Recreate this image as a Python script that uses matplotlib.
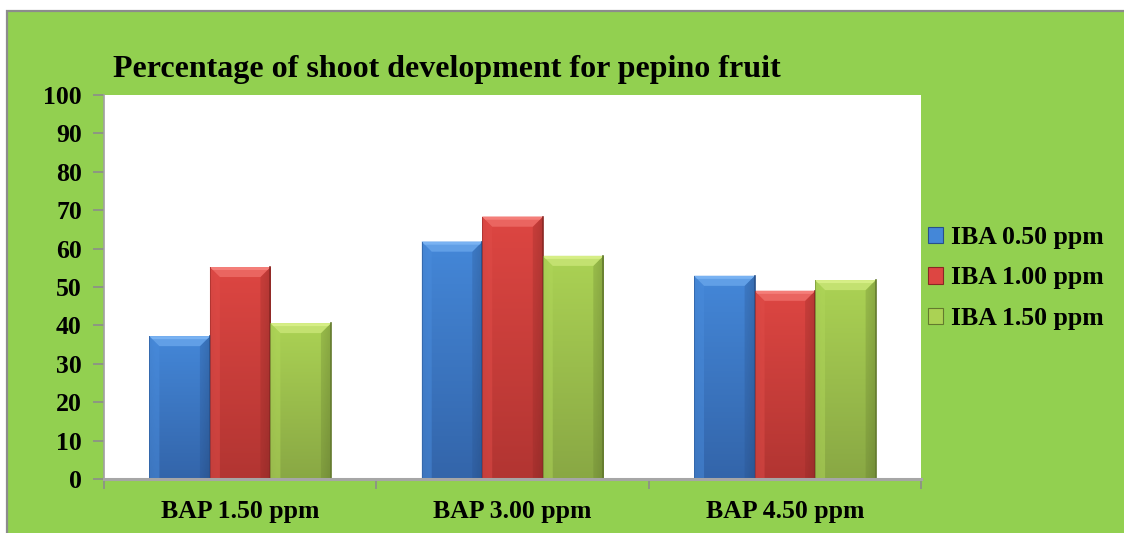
import matplotlib
matplotlib.use("Agg")
import matplotlib.pyplot as plt
import numpy as np
from matplotlib.patches import Rectangle, Polygon, Patch
from matplotlib.colors import to_rgb

categories = ["BAP 1.50 ppm", "BAP 3.00 ppm", "BAP 4.50 ppm"]
series_labels = ["IBA 0.50 ppm", "IBA 1.00 ppm", "IBA 1.50 ppm"]
iba_050 = [37.2, 61.8, 52.9]
iba_100 = [55.2, 68.3, 49.0]
iba_150 = [40.6, 58.1, 51.8]
y_ticks = [0, 10, 20, 30, 40, 50, 60, 70, 80, 90, 100]
title_text = "Percentage of shoot development for pepino fruit"

series = [iba_050, iba_100, iba_150]
# (top body, bottom body, bevel highlight, dark edge)
palettes = [
    ("#4487D8", "#3365AA", "#79B2F2", "#28508A"),
    ("#DD4642", "#B23532", "#F47E79", "#8A2724"),
    ("#ABD254", "#89A844", "#D6EE86", "#637A2E"),
]

W, H = 1124, 533
fig = plt.figure(figsize=(W / 100, H / 100), dpi=100)
fig.patch.set_facecolor("white")
bg = Rectangle((7 / W, -0.05), 1.1, 1 - 11 / H + 0.05,
               transform=fig.transFigure, facecolor="#92D050",
               edgecolor="#8C8C8C", linewidth=1.6, zorder=-10)
fig.patches.append(bg)

serif = ["Liberation Serif", "DejaVu Serif"]
FS = 18.5

ax_l, ax_r, ax_t, ax_b = 104, 921, 95, 479
ax = fig.add_axes([ax_l / W, 1 - ax_b / H, (ax_r - ax_l) / W, (ax_b - ax_t) / H])
ax.set_zorder(1)
ax.set_facecolor("white")
ax.set_xlim(-0.5, 2.5)
ax.set_ylim(0, 100)

x = np.arange(len(categories))
bw = 2 / 9
offsets = [-bw, 0, bw]

px_x = (ax_r - ax_l) / 3.0
px_y = (ax_b - ax_t) / 100.0
bev = 10.0
dx = bev / px_x
dy = bev / px_y

handles = []
for i, (vals, pal) in enumerate(zip(series, palettes)):
    top_c, bot_c, hi_c, dk_c = [np.array(to_rgb(c)) for c in pal]
    bars = ax.bar(x + offsets[i], vals, width=bw, color=pal[0], edgecolor="none",
                  zorder=2, label=series_labels[i])
    for b in bars:
        x0, w, h = b.get_x(), b.get_width(), b.get_height()
        x1 = x0 + w
        ny, nx = 64, 32
        t = np.linspace(0, 1, ny)[:, None, None]
        s = np.linspace(0, 1, nx)[None, :, None]
        body = top_c * (1 - t) + bot_c * t
        edge = 1 - 0.10 * np.clip((s - 0.85) / 0.15, 0, 1) - 0.05 * np.clip((0.1 - s) / 0.1, 0, 1)
        img = np.clip(body * edge, 0, 1)
        im = ax.imshow(img, extent=(x0, x1, 0, h), origin="upper", aspect="auto",
                       interpolation="bilinear", zorder=2.1)
        im.set_clip_path(b)
        b.set_facecolor("none")
        ax.add_patch(Polygon([(x0, h), (x1, h), (x1 - dx, h - dy), (x0 + dx, h - dy)],
                             closed=True, facecolor=hi_c * 0.55 + top_c * 0.45,
                             edgecolor="none", zorder=2.3))
        ax.add_patch(Polygon([(x0, h), (x1, h), (x1 - dx * 0.3, h - dy * 0.3), (x0 + dx * 0.3, h - dy * 0.3)],
                             closed=True, facecolor=hi_c, edgecolor="none", zorder=2.35))
        ax.add_patch(Polygon([(x0, 0), (x0, h), (x0 + dx, h - dy), (x0 + dx, 0)],
                             closed=True, facecolor=top_c * 0.9 + hi_c * 0.1,
                             edgecolor="none", alpha=0.5, zorder=2.2))
        ax.add_patch(Polygon([(x1, 0), (x1, h), (x1 - dx, h - dy), (x1 - dx, 0)],
                             closed=True, facecolor=dk_c, edgecolor="none",
                             alpha=0.25, zorder=2.2))
        ax.plot([x1, x1], [0, h], color=dk_c, lw=1.2, zorder=2.4)
        ax.plot([x0, x0], [0, h], color=dk_c * 0.6 + top_c * 0.4, lw=0.6, zorder=2.4)
    handles.append(Patch(facecolor=pal[0], edgecolor=pal[3], linewidth=0.8))

for sp in ["top", "right"]:
    ax.spines[sp].set_visible(False)
ax.spines["left"].set_color("#A0A0A0")
ax.spines["left"].set_linewidth(1.2)
ax.spines["bottom"].set_color("#A6A6A6")
ax.spines["bottom"].set_linewidth(2.2)
ax.spines["bottom"].set_zorder(3)

ax.set_yticks(y_ticks)
ax.set_yticklabels([str(v) for v in y_ticks], fontsize=FS, fontweight="bold",
                   family=serif, color="black")
ax.tick_params(axis="y", length=8, width=1.2, color="#8C8C8C", pad=8)

ax.set_xticks(x)
ax.set_xticklabels(categories, fontsize=FS, fontweight="bold", family=serif, color="black")
ax.tick_params(axis="x", which="major", length=0, pad=15)
ax.set_xticks([-0.5, 0.5, 1.5, 2.5], minor=True)
ax.tick_params(axis="x", which="minor", length=7, width=1.2, color="#8C8C8C")

fig.text(113 / W, 1 - 77 / H, title_text, fontsize=23, fontweight="bold",
         family=serif, ha="left", va="baseline", color="black")

leg = fig.legend(handles, series_labels, loc="upper left",
                 bbox_to_anchor=(928 / W, 1 - 226 / H), frameon=False,
                 prop={"family": serif, "size": FS, "weight": "bold"},
                 handlelength=0.6, handleheight=0.6, handletextpad=0.3,
                 labelspacing=0.68, borderaxespad=0, borderpad=0)

fig.savefig("out.png", dpi=100, facecolor=fig.get_facecolor())
